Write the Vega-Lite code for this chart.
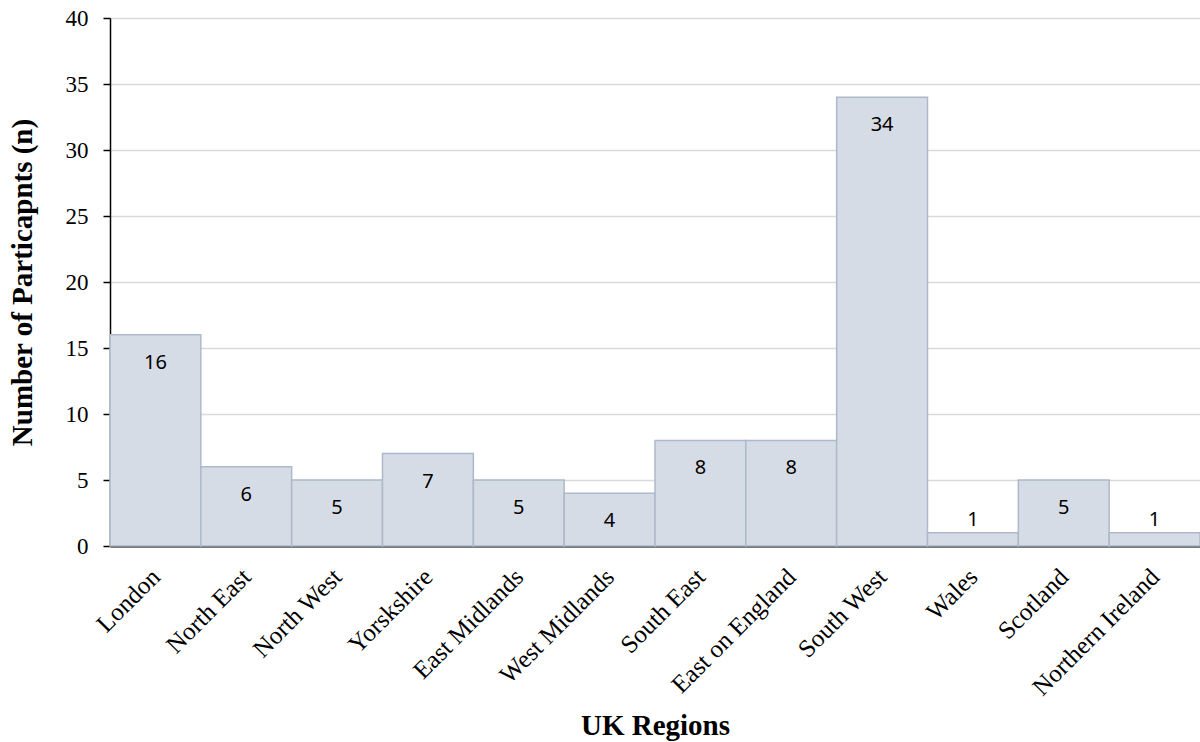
{
  "$schema": "https://vega.github.io/schema/vega-lite/v6.json",
  "width": 1090,
  "height": 528,
  "autosize": {"type": "none"},
  "padding": {"left": 110, "top": 18, "right": 0, "bottom": 196},
  "background": "white",
  "config": {"view": {"stroke": null}},
  "data": {"values": [
    {"region": "London", "n": 16},
    {"region": "North East", "n": 6},
    {"region": "North West", "n": 5},
    {"region": "Yorskshire", "n": 7},
    {"region": "East Midlands", "n": 5},
    {"region": "West Midlands", "n": 4},
    {"region": "South East", "n": 8},
    {"region": "East on England", "n": 8},
    {"region": "South West", "n": 34},
    {"region": "Wales", "n": 1},
    {"region": "Scotland", "n": 5},
    {"region": "Northern Ireland", "n": 1}
  ]},
  "encoding": {
    "x": {
      "field": "region", "type": "nominal", "sort": null,
      "scale": {"paddingInner": 0, "paddingOuter": 0},
      "axis": {
        "title": "UK Regions", "titleFont": "Liberation Serif", "titleFontSize": 29, "titleFontWeight": "bold", "titleColor": "#000", "titlePadding": 12,
        "labelAngle": -45, "labelFont": "Liberation Serif", "labelFontSize": 25, "labelColor": "#000", "labelPadding": 18, "labelOffset": -8,
        "ticks": false, "domainColor": "#000", "domainWidth": 2, "grid": false
      }
    },
    "y": {
      "field": "n", "type": "quantitative",
      "scale": {"domain": [0, 40]},
      "axis": {
        "title": "Number of Particapnts (n)", "titleFont": "Liberation Serif", "titleFontSize": 29, "titleFontWeight": "bold", "titleColor": "#000", "titlePadding": 28,
        "values": [0, 5, 10, 15, 20, 25, 30, 35, 40],
        "labelFont": "Liberation Serif", "labelFontSize": 23, "labelColor": "#000", "labelPadding": 15,
        "tickColor": "#000", "tickSize": 7, "tickWidth": 1.5,
        "domainColor": "#000", "domainWidth": 1.5,
        "gridColor": "#d9d9d9", "gridWidth": 1.5
      }
    }
  },
  "layer": [
    {"mark": {"type": "bar", "fill": "#d6dce5", "stroke": "#adb9ca", "strokeWidth": 1.5}},
    {
      "transform": [{"filter": "datum.n >= 3"}],
      "mark": {"type": "text", "baseline": "middle", "dy": 28, "font": "Noto Sans", "fontSize": 20, "color": "#000"},
      "encoding": {"text": {"field": "n"}}
    },
    {
      "transform": [{"filter": "datum.n < 3"}],
      "mark": {"type": "text", "baseline": "middle", "dy": -13, "font": "Noto Sans", "fontSize": 20, "color": "#000"},
      "encoding": {"text": {"field": "n"}}
    }
  ]
}
